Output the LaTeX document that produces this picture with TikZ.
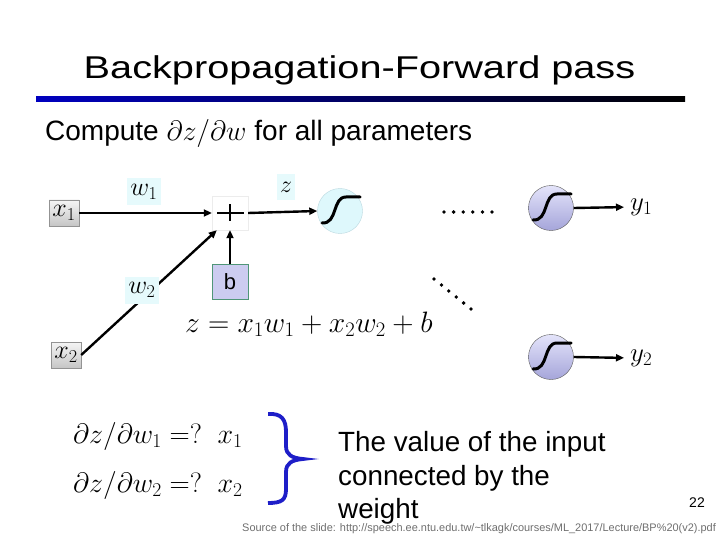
\documentclass[tikz,border=0pt]{standalone}
\usepackage{fix-cm}
\usepackage[no-math]{fontspec}
\setmainfont{Liberation Sans}
\usetikzlibrary{arrows.meta}
\newcommand\fsz[1]{\fontsize{#1}{#1}\selectfont}
\definecolor{lcyan}{RGB}{230,250,252}
\definecolor{sigcyan}{RGB}{222,248,252}
\definecolor{sigcyanb}{RGB}{185,215,222}
\definecolor{lavtop}{RGB}{228,228,250}
\definecolor{lavbot}{RGB}{165,165,218}
\definecolor{bfill}{RGB}{204,204,240}
\definecolor{bborder}{RGB}{80,150,120}
\definecolor{bracec}{RGB}{30,30,200}
\definecolor{srcgray}{RGB}{110,110,110}
\tikzset{
  xbox/.style={draw=gray!85, top color=gray!8, bottom color=gray!45, minimum width=30, minimum height=26, inner sep=0, font=\fsz{26}},
  lbl/.style={fill=lcyan, minimum width=34, minimum height=27, inner sep=0, font=\fsz{26}},
  arr/.style={-{Triangle[length=8pt,width=7pt]}, line width=2.4pt},
  sigc/.style={circle, draw=sigcyanb, fill=sigcyan, minimum size=45, inner sep=0},
  sigl/.style={circle, draw=black!65, top color=lavtop, bottom color=lavbot, minimum size=45, inner sep=0},
  sline/.style={line width=3pt, line cap=round},
}
\newcommand\sigcurve[1]{%
  \draw[sline] ([shift={(-18,12)}]#1.center) .. controls ([shift={(-2,13)}]#1.center) and ([shift={(-8,-14)}]#1.center) .. ([shift={(6,-14)}]#1.center) -- ([shift={(20,-14)}]#1.center);}
\begin{document}
\begin{tikzpicture}[x=1pt,y=-1pt]
\useasboundingbox (0,0) rectangle (720,540);
% title
\node[anchor=base, inner sep=0, font=\fsz{31.5}] (title) at (359.5,79) {\scalebox{1.26}[1]{Backpropagation-Forward pass}};
\shade[left color=blue!75!black, right color=black] (36,97) rectangle (685,102);
% compute line
\node[anchor=base west, inner sep=0, font=\fsz{28}] (compute) at (45,140.5) {Compute $\partial z/\partial w$ for all parameters};
% nodes
\node[xbox] (x1) at (64,213) {$x_1$};
\node[xbox] (x2) at (66,355) {$x_2$};
\node[draw=gray!15, fill=white, minimum width=36, minimum height=34, inner sep=0] (plus) at (230,213) {};
\draw[line width=2pt] ([xshift=-13]plus.center) -- ([xshift=14]plus.center);
\draw[line width=2pt] ([yshift=-8]plus.center) -- ([yshift=9]plus.center);
\node[draw=bborder, fill=bfill, minimum width=36, minimum height=35, inner sep=0, font=\fsz{22}] (b) at (230,282) {b};
\node[sigc] (s1) at (340,211) {};
\node[sigl] (sy1) at (551,208) {};
\node[sigl] (sy2) at (551,357) {};
\node[anchor=west, inner sep=0, font=\fsz{27}] (y1) at (630,207) {$y_1$};
\node[anchor=west, inner sep=0, font=\fsz{27}] (y2) at (630,358) {$y_2$};
% connectors
\draw[arr] (x1.east) -- (plus.west);
\draw[arr] (x2.east) -- ([xshift=5]plus.south west);
\draw[arr] (b.north) -- (plus.south);
\draw[arr] (plus.east) -- (s1.west);
\draw[arr, shorten >=6pt] (sy1.east) -- (y1.west);
\draw[arr, shorten >=6pt] (sy2.east) -- (y2.west);
% labels on connectors
\node[lbl] (w1) at (144,192) {$w_1$};
\node[lbl] (w2) at (142,290) {$w_2$};
\node[lbl, minimum width=18, minimum height=26, font=\fsz{24}] (z) at (286,187) {$z$};
% sigmoid curves
\sigcurve{s1}
\sigcurve{sy1}
\sigcurve{sy2}
% dots
\foreach \i in {0,...,5} \fill (444+\i*9.6,212) circle (1.9);
\foreach \i in {0,...,5} \fill (434+\i*7.4,279+\i*6) circle (1.9);
% equation
\node[anchor=base west, inner sep=0, font=\fsz{29.5}] (eq) at (185,332) {$z = x_1w_1 + x_2w_2 + b$};
% derivatives
\node[anchor=west, inner sep=0, font=\fsz{28}] (d1) at (73,436) {$\partial z/\partial w_1 =?\ \ x_1$};
\node[anchor=west, inner sep=0, font=\fsz{28}] (d2) at (73,485) {$\partial z/\partial w_2 =?\ \ x_2$};
% brace
\draw[bracec, line width=3.8pt] (268,414) .. controls (282,413) and (286,420) .. (286,432) -- (286,446) .. controls (286,455) and (292,458) .. (303,459) .. controls (292,460) and (286,463) .. (286,472) -- (286,489) .. controls (286,500) and (282,503) .. (268,503);
% explanation
\node[anchor=base west, inner sep=0, font=\fsz{27.8}] (t1) at (338,451) {The value of the input};
\node[anchor=base west, inner sep=0, font=\fsz{27.8}] (t2) at (338,485) {connected by the};
\node[anchor=base west, inner sep=0, font=\fsz{27.8}] (t3) at (338,518) {weight};
% page number and source
\node[anchor=center, inner sep=0, font=\fsz{14}] (pg) at (697,503) {22};
\node[anchor=base west, inner sep=0, font=\fsz{10.95}, text=srcgray] (src) at (242,531) {Source of the slide: http://speech.ee.ntu.edu.tw/\textasciitilde tlkagk/courses/ML\_2017/Lecture/BP\%20(v2).pdf};
\end{tikzpicture}
\end{document}
